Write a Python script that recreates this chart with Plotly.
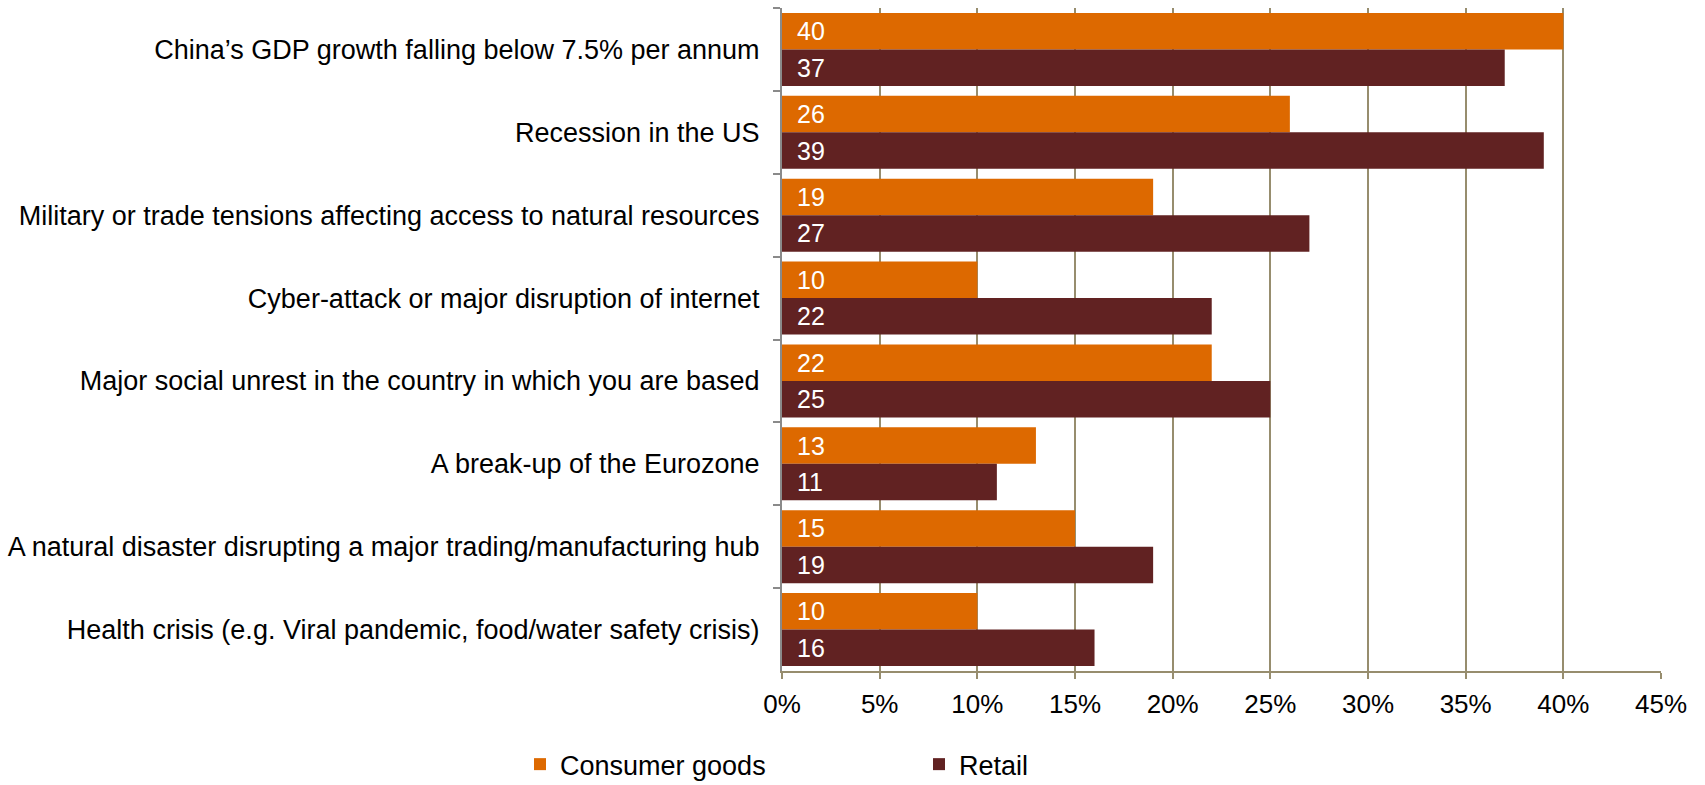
import plotly.graph_objects as go

# Survey responses (% of respondents) by risk scenario
categories = [
    "China\u2019s GDP growth falling below 7.5% per annum",
    "Recession in the US",
    "Military or trade tensions affecting access to natural resources",
    "Cyber-attack or major disruption of internet",
    "Major social unrest in the country in which you are based",
    "A break-up of the Eurozone",
    "A natural disaster disrupting a major trading/manufacturing hub",
    "Health crisis (e.g. Viral pandemic, food/water safety crisis)",
]
consumer_goods = [40, 26, 19, 10, 22, 13, 15, 10]
retail = [37, 39, 27, 22, 25, 11, 19, 16]
x_ticks = [0, 5, 10, 15, 20, 25, 30, 35, 40, 45]

ORANGE = "#DD6900"
MAROON = "#612222"
GRID = "#978D6E"
FONT = "Liberation Sans, Arial, sans-serif"

fig = go.Figure()
fig.add_trace(go.Bar(
    name="Consumer goods", y=categories, x=consumer_goods, orientation="h",
    marker=dict(color=ORANGE, line=dict(width=0)), hoverinfo="x+y",
))
fig.add_trace(go.Bar(
    name="Retail", y=categories, x=retail, orientation="h",
    marker=dict(color=MAROON, line=dict(width=0)), hoverinfo="x+y",
))

# White value labels at the base of each bar
bar_offset = 18.3
annotations = []
for cat, cg, rt in zip(categories, consumer_goods, retail):
    for val, shift in ((cg, bar_offset), (rt, -bar_offset)):
        annotations.append(dict(
            x=0, y=cat, xref="x", yref="y", text=str(val), showarrow=False,
            xanchor="left", yanchor="middle", xshift=13, yshift=shift,
            font=dict(family=FONT, size=25, color="white"),
        ))

fig.update_layout(
    width=1705, height=785,
    margin=dict(l=780, r=44, t=8, b=114),
    paper_bgcolor="white", plot_bgcolor="white",
    barmode="group", bargap=0.12, bargroupgap=0,
    font=dict(family=FONT, size=27, color="black"),
    annotations=annotations,
    showlegend=True,
    legend=dict(
        orientation="h", xref="container", yref="container",
        x=0.305, y=0.026, xanchor="left", yanchor="middle",
        entrywidth=354, font=dict(family=FONT, size=27, color="black"),
        bgcolor="rgba(0,0,0,0)", traceorder="normal",
    ),
    xaxis=dict(
        range=[0, 45], tickvals=x_ticks, ticktext=[f"{v}%" for v in x_ticks],
        showgrid=True, gridcolor=GRID, gridwidth=2, zeroline=False,
        showline=True, linecolor=GRID, linewidth=2,
        ticks="outside", ticklen=6, tickwidth=2, tickcolor=GRID,
        ticklabelstandoff=3,
        tickfont=dict(family=FONT, size=26, color="black"),
        fixedrange=True,
    ),
    yaxis=dict(
        categoryorder="array", categoryarray=categories, autorange="reversed",
        showline=True, linecolor="#8A8A8A", linewidth=2,
        ticks="outside", tickson="boundaries", ticklen=7, tickwidth=2, tickcolor="#8A8A8A",
        ticklabelstandoff=15,
        showgrid=False, zeroline=False,
        tickfont=dict(family=FONT, size=27, color="black"),
        fixedrange=True,
    ),
)

fig.write_html("out.html")
